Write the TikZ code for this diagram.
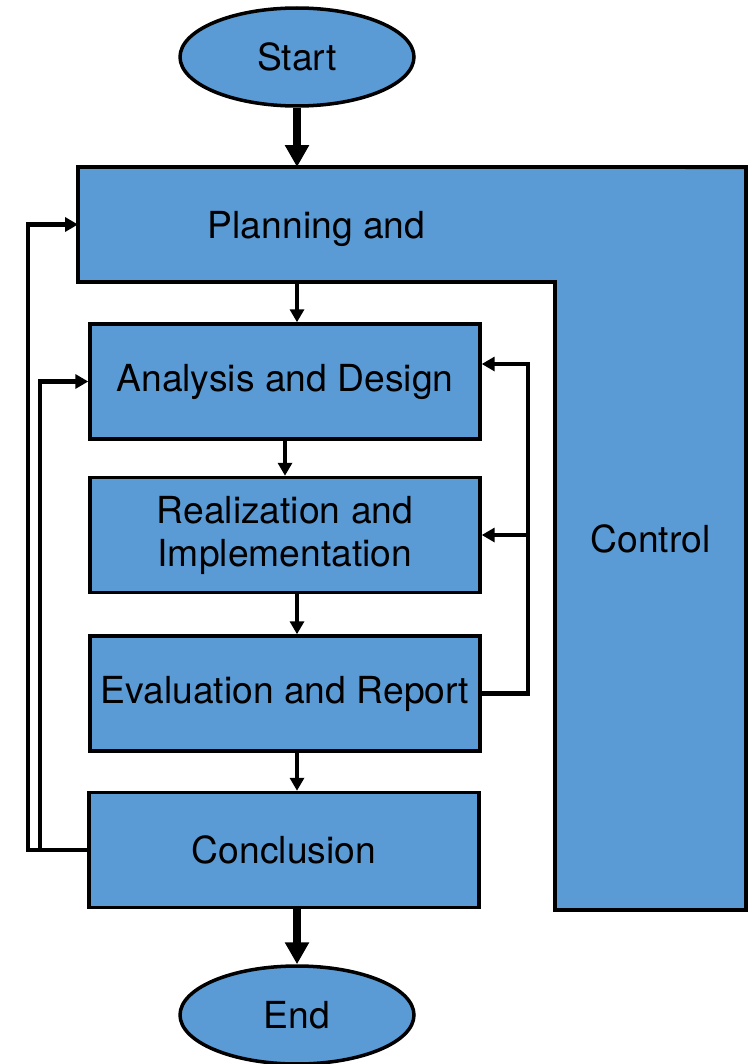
\documentclass[tikz,border=0pt]{standalone}
\usepackage{fontspec}
\setmainfont{TeX Gyre Heros}
\usetikzlibrary{arrows.meta,shapes.geometric}
\definecolor{boxblue}{RGB}{91,155,213}
\begin{document}
\begin{tikzpicture}[x=0.02cm,y=-0.02cm,font=\fontsize{21.2}{24.5}\selectfont,
stage/.style={rectangle,minimum width=7.8cm,minimum height=2.3cm,fill=boxblue,draw=black,line width=2pt,align=center},
term/.style={ellipse,minimum width=4.68cm,minimum height=1.96cm,fill=boxblue,draw=black,line width=2pt},
part/.style={rectangle,fill=boxblue,outer sep=0pt},
arr/.style={line width=2.3pt,-{Triangle[length=0.26cm,width=0.28cm]}},
bigarr/.style={line width=4.4pt,-{Triangle[length=0.44cm,width=0.46cm]}}]
\useasboundingbox (0,0) rectangle (749,1064);
\draw (297,57)node[term] (start) {Start};
\draw (316.5,224.5)node[part,minimum width=9.54cm,minimum height=2.3cm,text depth=-0.1cm] (plan) {Planning and};
\draw (650.5,538.5)node[part,minimum width=3.82cm,minimum height=14.86cm] (ctrl) {Control};
\draw[line width=2.2pt] (plan.south west) -- (plan.north west) -- (ctrl.north east) -- (ctrl.south east) -- (ctrl.south west) -- (ctrl.west |- plan.south) -- cycle;
\draw (285,381.5)node[stage] (ana) {Analysis and Design};
\draw (285,535)node[stage] (rea) {Realization and\\Implementation};
\draw (285,693.5)node[stage] (eva) {Evaluation and Report};
\draw (284,850)node[stage] (con) {Conclusion};
\draw (297,1015)node[term] (end) {End};

\draw[bigarr] (start) -- (start |- plan.north);
\draw[arr] (plan.south -| start) -- (ana.north -| start);
\draw[arr] (ana) -- (rea);
\draw[arr] (rea.south -| start) -- (eva.north -| start);
\draw[arr] (eva.south -| start) -- (con.north -| start);
\draw[bigarr] (con.south -| end) -- (end);

\draw[arr] (eva.east) -- ++(46,0) coordinate (rfb) |- ([yshift=0.35cm]ana.east);
\draw[arr] (rfb |- rea.east) -- (rea.east);
\draw[arr] (con.west) -- ++(-59,0) |- (plan.west);
\draw[arr] ([xshift=-0.94cm]con.west) |- (ana.west);
\end{tikzpicture}
\end{document}
